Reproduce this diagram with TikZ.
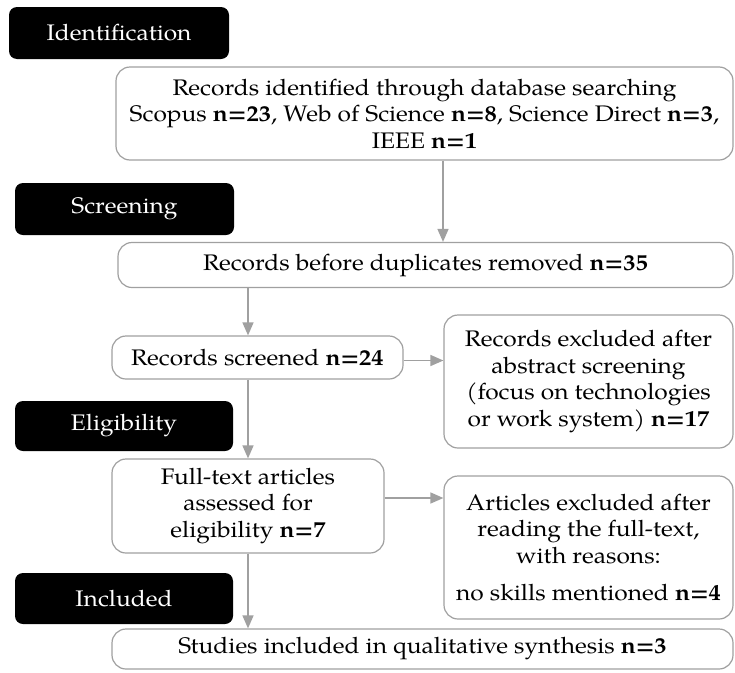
\documentclass[tikz,border=0pt]{standalone}
\usepackage{fontspec}
\setmainfont{texgyrepagella}[Extension=.otf, UprightFont=*-regular, BoldFont=*-bold, ItalicFont=*-italic, BoldItalicFont=*-bolditalic, FakeStretch=1.09]
\usetikzlibrary{arrows.meta}
\definecolor{linegrey}{HTML}{A0A0A0}
\begin{document}
\begin{tikzpicture}[x=1pt,y=-1pt,
  every node/.style={font=\fontsize{22.5}{26.5}\selectfont},
  phase/.style={fill=black, text=white, rounded corners=8pt, inner sep=0pt, draw=none},
  wbox/.style={draw=linegrey, line width=1.2pt, rounded corners=14pt, fill=white, align=center, inner sep=0pt},
  arr/.style={draw=linegrey, line width=1.5pt, -{Triangle[width=11pt,length=13pt]}},
]
\useasboundingbox (0,0) rectangle (735,672);
\node[phase, minimum width=220pt, minimum height=52pt] (ident) at (119,33) {Identification};
\node[wbox, minimum width=617pt, minimum height=93pt] (top) at (424.5,113.5)
  {Records identified through database searching\\Scopus \textbf{n=23}, Web of Science \textbf{n=8}, Science Direct \textbf{n=3},\\IEEE \textbf{n=1}};
\node[phase, minimum width=219pt, minimum height=52pt] (screen) at (124.5,209) {Screening};
\node[wbox, minimum width=615pt, minimum height=45pt] (before) at (425.5,265) {Records before duplicates removed \textbf{n=35}};
\node[wbox, minimum width=291pt, minimum height=43pt] (screened) at (257.5,357.5) {Records screened \textbf{n=24}};
\node[wbox, minimum width=289pt, minimum height=133pt] (excl1) at (588.5,381.5)
  {Records excluded after\\abstract screening\\(focus on technologies\\or work system) \textbf{n=17}};
\node[phase, minimum width=218pt, minimum height=50pt] (elig) at (124,426) {Eligibility};
\node[wbox, minimum width=272pt, minimum height=94pt] (full) at (248,506)
  {Full-text articles\\assessed for\\eligibility \textbf{n=7}};
\node[wbox, minimum width=289pt, minimum height=143pt] (excl2) at (588.5,547.5)
  {Articles excluded after\\reading the full-text,\\with reasons:\\[11pt]no skills mentioned \textbf{n=4}};
\node[phase, minimum width=218pt, minimum height=51pt] (incl) at (124,598.5) {Included};
\node[wbox, minimum width=621pt, minimum height=40pt] (studies) at (422.5,649) {Studies included in qualitative synthesis \textbf{n=3}};
\coordinate (c1) at (443,0);
\coordinate (s1) at ([yshift=-3pt]screened.east);
\coordinate (f1) at ([yshift=8pt]full.east);
\draw[arr] (top.south -| c1) -- (before.north -| c1);
\draw[arr] (before.south -| full) -- (screened.north -| full);
\draw[arr] (screened.south -| full) -- (full.north);
\draw[arr] (s1) -- (excl1.west |- s1);
\draw[arr] (f1) -- (excl2.west |- f1);
\draw[arr] (full.south) -- (studies.north -| full);
\end{tikzpicture}
\end{document}
